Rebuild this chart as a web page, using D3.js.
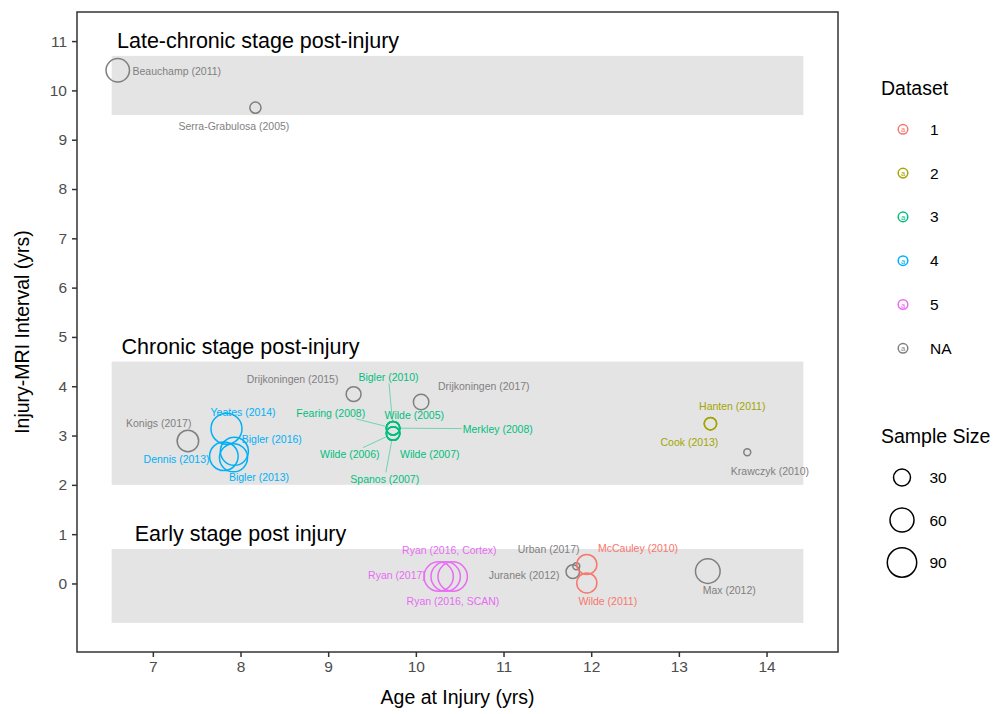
<!DOCTYPE html>
<html>
<head>
<meta charset="utf-8">
<script src="https://cdn.jsdelivr.net/npm/d3@7"></script>
<style>
  body { margin: 0; background: #fff; }
  svg { display: block; font-family: "Liberation Sans", Arial, sans-serif; }
</style>
</head>
<body>
<svg id="chart" width="994" height="714"></svg>
<script>
// ---------------- data ----------------
const studies = [
  "Beauchamp (2011)", "Serra-Grabulosa (2005)", "Drijkoningen (2015)", "Drijkoningen (2017)",
  "Bigler (2010)", "Fearing (2008)", "Wilde (2005)", "Merkley (2008)",
  "Wilde (2006)", "Wilde (2007)", "Spanos (2007)",
  "Konigs (2017)", "Yeates (2014)", "Bigler (2016)", "Dennis (2013)", "Bigler (2013)",
  "Hanten (2011)", "Cook (2013)", "Krawczyk (2010)",
  "Ryan (2017)", "Ryan (2016, Cortex)", "Ryan (2016, SCAN)",
  "Juranek (2012)", "Urban (2017)", "McCauley (2010)", "Wilde (2011)", "Max (2012)"
];
const ageAtInjury = [
  6.60, 8.17, 9.29, 10.06,
  9.74, 9.74, 9.74, 9.74,
  9.74, 9.74, 9.74,
  7.40, 7.84, 7.93, 7.81, 7.92,
  13.36, 13.36, 13.78,
  10.26, 10.34, 10.42,
  11.79, 11.83, 11.95, 11.95, 13.33
];
const injuryMriInterval = [
  10.41, 9.65, 3.84, 3.68,
  3.15, 3.15, 3.15, 3.15,
  3.04, 3.04, 3.04,
  2.89, 3.14, 2.68, 2.58, 2.55,
  3.24, 3.24, 2.66,
  0.14, 0.14, 0.14,
  0.24, 0.35, 0.385, 0.01, 0.25
];
const sampleSize = [
  57, 13, 23, 25,
  19, 19, 19, 19,
  19, 19, 19,
  48, 100, 82, 85, 82,
  16, 16, 5,
  90, 90, 90,
  19, 5, 42, 42, 63
];
const dataset = [
  "NA", "NA", "NA", "NA",
  "3", "3", "3", "3",
  "3", "3", "3",
  "NA", "4", "4", "4", "4",
  "2", "2", "NA",
  "5", "5", "5",
  "NA", "NA", "1", "1", "NA"
];
// label placement nudges (pixels, relative to the point) – layout only
const labelNudge = [
  [59, 1], [-21.5, 18], [-61, -15], [62.7, -16.3],
  [-4.6, -51], [-62.3, -15.6], [21.2, -13.3], [104.7, 0.7],
  [-43.3, 20.3], [36.7, 20.3], [-8.3, 45],
  [-29.2, -18], [16.6, -16.7], [37.4, -12.4], [-47.3, 2.6], [25.5, 19],
  [21.8, -17.6], [-21, 18.4], [22.7, 18.3],
  [-41.7, -1.3], [3.7, -27], [0.3, 24.7],
  [-48.7, 3.4], [-27.7, -17.7], [51.2, -16], [21, 18.4], [21.4, 19]
];

const stageNames = ["Late-chronic stage post-injury", "Chronic stage post-injury", "Early stage post injury"];
const stageLow = [9.5, 2.0, -0.8];
const stageHigh = [10.7, 4.5, 0.7];
const stageLabelX = [8.2, 8.0, 8.0];
const stageLabelY = [11.0, 4.8, 1.0];
const bandAgeRange = [6.53, 14.42];

const datasetLevels = ["1", "2", "3", "4", "5", "NA"];
const datasetColors = ["#F8766D", "#A3A500", "#00BF7D", "#00B0F6", "#E76BF3", "#7F7F7F"];
const sizeBreaks = [30, 60, 90];
const xTicks = [7, 8, 9, 10, 11, 12, 13, 14];
const yTicks = [0, 1, 2, 3, 4, 5, 6, 7, 8, 9, 10, 11];

// ---------------- layout ----------------
const svg = d3.select("#chart");
const panel = { left: 77, right: 838, top: 12, bottom: 652 };

const x = d3.scaleLinear().domain([6.135, 14.815]).range([panel.left, panel.right]);
const y = d3.scaleLinear().domain([-1.39, 11.59]).range([panel.bottom, panel.top]);
const r = d3.scaleSqrt().domain([0, 100]).range([0, 15.5]);
const color = d3.scaleOrdinal().domain(datasetLevels).range(datasetColors);

// bands
svg.append("g").selectAll("rect").data(stageNames).join("rect")
  .attr("x", x(bandAgeRange[0]))
  .attr("width", x(bandAgeRange[1]) - x(bandAgeRange[0]))
  .attr("y", (d, i) => y(stageHigh[i]))
  .attr("height", (d, i) => y(stageLow[i]) - y(stageHigh[i]))
  .attr("fill", "#E4E4E4");

// stage titles
svg.append("g").selectAll("text").data(stageNames).join("text")
  .attr("x", (d, i) => x(stageLabelX[i]))
  .attr("y", (d, i) => y(stageLabelY[i]))
  .attr("text-anchor", "middle")
  .attr("dominant-baseline", "central")
  .attr("font-size", 21.5)
  .attr("fill", "#000")
  .text(d => d);

// points
const pts = studies.map((s, i) => ({
  name: s, age: ageAtInjury[i], iv: injuryMriInterval[i], n: sampleSize[i], ds: dataset[i], nudge: labelNudge[i]
}));

const gPts = svg.append("g");
gPts.selectAll("circle").data(pts).join("circle")
  .attr("cx", d => x(d.age))
  .attr("cy", d => y(d.iv))
  .attr("r", d => r(d.n))
  .attr("fill", "none")
  .attr("stroke", d => color(d.ds))
  .attr("stroke-width", 1.5);

// labels (with repel-style segments)
const gSeg = svg.append("g");
const gLab = svg.append("g");
const labelFont = 10.5;
gLab.selectAll("text").data(pts).join("text")
  .attr("x", d => x(d.age) + d.nudge[0])
  .attr("y", d => y(d.iv) + d.nudge[1])
  .attr("text-anchor", "middle")
  .attr("dominant-baseline", "central")
  .attr("font-size", labelFont)
  .attr("fill", d => color(d.ds))
  .text(d => d.name)
  .each(function (d) {
    const w = this.getComputedTextLength();
    const cx = x(d.age), cy = y(d.iv);
    const lx = cx + d.nudge[0], ly = cy + d.nudge[1];
    const hw = w / 2 + 1, hh = labelFont / 2 + 1;
    const nx = Math.max(lx - hw, Math.min(cx, lx + hw));
    const ny = Math.max(ly - hh, Math.min(cy, ly + hh));
    const dist = Math.hypot(nx - cx, ny - cy);
    const rad = r(d.n);
    if (dist - rad > 11.9) {
      // segment along the line from label centre to point centre
      const dx = cx - lx, dy = cy - ly;
      const t = Math.min(dx !== 0 ? hw / Math.abs(dx) : Infinity, dy !== 0 ? hh / Math.abs(dy) : Infinity);
      const sx = lx + dx * t, sy = ly + dy * t;
      const L = Math.hypot(dx, dy);
      const ex = cx - dx / L * rad, ey = cy - dy / L * rad;
      gSeg.append("line")
        .attr("x1", sx).attr("y1", sy).attr("x2", ex).attr("y2", ey)
        .attr("stroke", color(d.ds)).attr("stroke-opacity", 0.5).attr("stroke-width", 1);
    }
  });

// panel border
svg.append("rect")
  .attr("x", panel.left).attr("y", panel.top)
  .attr("width", panel.right - panel.left).attr("height", panel.bottom - panel.top)
  .attr("fill", "none").attr("stroke", "#333").attr("stroke-width", 1.5);

// axes
const xAxis = svg.append("g")
  .attr("transform", `translate(0,${panel.bottom})`)
  .call(d3.axisBottom(x).tickValues(xTicks).tickSize(5).tickPadding(4).tickFormat(d3.format("d")));
const yAxis = svg.append("g")
  .attr("transform", `translate(${panel.left},0)`)
  .call(d3.axisLeft(y).tickValues(yTicks).tickSize(5).tickPadding(5).tickFormat(d3.format("d")));
[xAxis, yAxis].forEach(a => {
  a.select(".domain").remove();
  a.selectAll(".tick line").attr("stroke", "#333").attr("stroke-width", 1.5);
  a.selectAll(".tick text").attr("font-size", 15.5).attr("fill", "#4D4D4D")
    .attr("font-family", "Liberation Sans, Arial, sans-serif");
});

// axis titles
svg.append("text")
  .attr("x", (panel.left + panel.right) / 2).attr("y", 697)
  .attr("text-anchor", "middle").attr("dominant-baseline", "central")
  .attr("font-size", 19.5).attr("fill", "#000")
  .text("Age at Injury (yrs)");
svg.append("text")
  .attr("transform", `translate(22,${(panel.top + panel.bottom) / 2}) rotate(-90)`)
  .attr("text-anchor", "middle").attr("dominant-baseline", "central")
  .attr("font-size", 19.5).attr("fill", "#000")
  .text("Injury-MRI Interval (yrs)");

// legend: Dataset
const leg = svg.append("g");
leg.append("text").attr("x", 881).attr("y", 88).attr("dominant-baseline", "central")
  .attr("font-size", 19.5).attr("fill", "#000").text("Dataset");
const items = leg.selectAll("g.ds").data(datasetLevels).join("g").attr("class", "ds")
  .attr("transform", (d, i) => `translate(903,${129.3 + i * 43.8})`);
items.append("circle").attr("r", 4.8).attr("fill", "none")
  .attr("stroke", d => color(d)).attr("stroke-width", 1.5);
items.append("text").attr("text-anchor", "middle").attr("dominant-baseline", "central")
  .attr("y", 0.5).attr("font-size", 7.5).attr("fill", d => color(d)).text("a");
items.append("text").attr("x", 27).attr("dominant-baseline", "central")
  .attr("font-size", 15.5).attr("fill", "#000").text(d => d);

// legend: Sample Size
leg.append("text").attr("x", 881).attr("y", 436).attr("dominant-baseline", "central")
  .attr("font-size", 19.5).attr("fill", "#000").text("Sample Size");
const sItems = leg.selectAll("g.sz").data(sizeBreaks).join("g").attr("class", "sz")
  .attr("transform", (d, i) => `translate(902,${477.5 + i * 42.5})`);
sItems.append("circle").attr("r", d => r(d)).attr("fill", "none")
  .attr("stroke", "#000").attr("stroke-width", 1.5);
sItems.append("text").attr("x", 27.5).attr("dominant-baseline", "central")
  .attr("font-size", 15.5).attr("fill", "#000").text(d => d);
</script>
</body>
</html>
